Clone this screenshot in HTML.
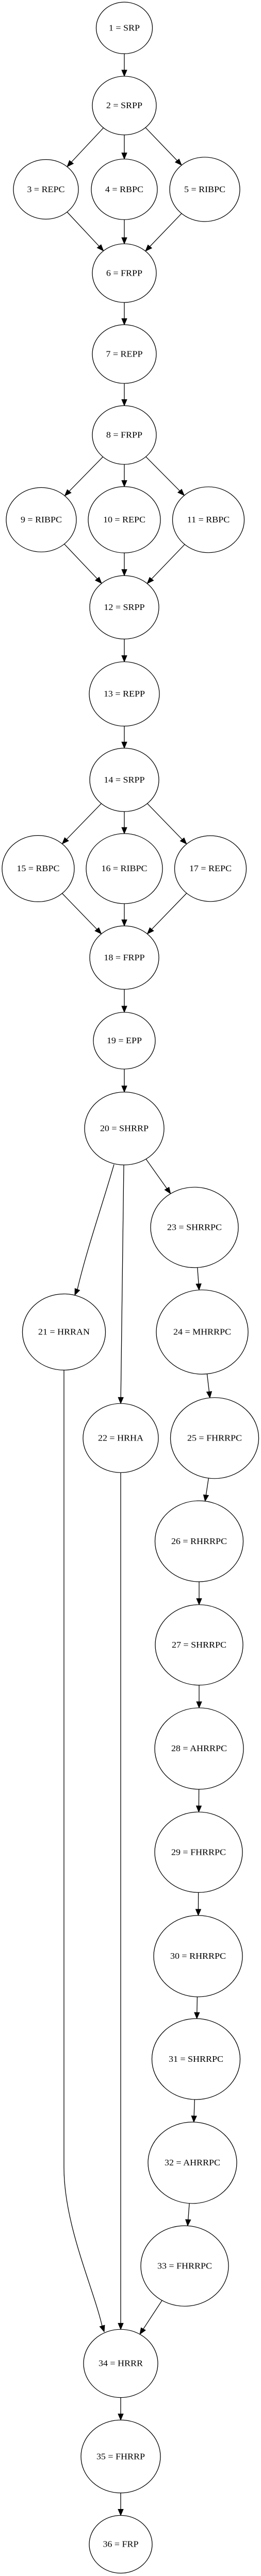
<!DOCTYPE html>
<html><head><meta charset="utf-8"><style>
html,body{margin:0;padding:0;background:#fff;width:100%;height:100%;overflow:hidden;}
svg{display:block;position:absolute;left:0;top:0;width:100vw;height:100vh;}
text{font-family:"Liberation Serif",serif;font-size:18px;text-anchor:middle;dominant-baseline:central;fill:#000;}
ellipse{fill:#fff;stroke:#000;stroke-width:1.3;}
</style></head><body>
<svg id="s" viewBox="0 0 506 5442" preserveAspectRatio="none" xmlns="http://www.w3.org/2000/svg">
<g id="edges" stroke="#000" stroke-width="1.3" fill="none"></g>
<g id="heads" fill="#000" stroke="#000" stroke-width="1"></g>
<g id="nodes">
<ellipse cx="241" cy="59" rx="54.5" ry="54.5"/><text x="241" y="59">1 = SRP</text>
<ellipse cx="241" cy="223" rx="62" ry="62"/><text x="241" y="223">2 = SRPP</text>
<ellipse cx="89" cy="400" rx="63" ry="63"/><text x="89" y="400">3 = REPC</text>
<ellipse cx="241" cy="400" rx="64" ry="64"/><text x="241" y="400">4 = RBPC</text>
<ellipse cx="397" cy="400" rx="68" ry="68"/><text x="397" y="400">5 = RIBPC</text>
<ellipse cx="241" cy="577" rx="62" ry="62"/><text x="241" y="577">6 = FRPP</text>
<ellipse cx="241" cy="748" rx="62" ry="62"/><text x="241" y="748">7 = REPP</text>
<ellipse cx="241" cy="919" rx="62" ry="62"/><text x="241" y="919">8 = FRPP</text>
<ellipse cx="80" cy="1098" rx="68" ry="68"/><text x="80" y="1098">9 = RIBPC</text>
<ellipse cx="241" cy="1098" rx="70" ry="70"/><text x="241" y="1098">10 = REPC</text>
<ellipse cx="404" cy="1098" rx="69.5" ry="69.5"/><text x="404" y="1098">11 = RBPC</text>
<ellipse cx="241" cy="1283" rx="67" ry="67"/><text x="241" y="1283">12 = SRPP</text>
<ellipse cx="241" cy="1466" rx="68" ry="68"/><text x="241" y="1466">13 = REPP</text>
<ellipse cx="241" cy="1647.5" rx="67" ry="67"/><text x="241" y="1647.5">14 = SRPP</text>
<ellipse cx="74" cy="1835" rx="70" ry="70"/><text x="74" y="1835">15 = RBPC</text>
<ellipse cx="241" cy="1835" rx="74" ry="74"/><text x="241" y="1835">16 = RIBPC</text>
<ellipse cx="408" cy="1835" rx="69.5" ry="69.5"/><text x="408" y="1835">17 = REPC</text>
<ellipse cx="241" cy="2023" rx="67" ry="67"/><text x="241" y="2023">18 = FRPP</text>
<ellipse cx="241" cy="2198.5" rx="60" ry="60"/><text x="241" y="2198.5">19 = EPP</text>
<ellipse cx="241" cy="2384" rx="77" ry="77"/><text x="241" y="2384">20 = SHRRP</text>
<ellipse cx="124" cy="2814" rx="80.5" ry="80.5"/><text x="124" y="2814">21 = HRRAN</text>
<ellipse cx="234" cy="3038" rx="73" ry="73"/><text x="234" y="3038">22 = HRHA</text>
<ellipse cx="377" cy="2593" rx="85" ry="85"/><text x="377" y="2593">23 = SHRRPC</text>
<ellipse cx="392" cy="2814" rx="89" ry="89"/><text x="392" y="2814">24 = MHRRPC</text>
<ellipse cx="416" cy="3038" rx="85.5" ry="85.5"/><text x="416" y="3038">25 = FHRRPC</text>
<ellipse cx="386" cy="3256" rx="85.5" ry="85.5"/><text x="386" y="3256">26 = RHRRPC</text>
<ellipse cx="386" cy="3475" rx="85" ry="85"/><text x="386" y="3475">27 = SHRRPC</text>
<ellipse cx="386" cy="3694" rx="86" ry="86"/><text x="386" y="3694">28 = AHRRPC</text>
<ellipse cx="385" cy="3913" rx="85" ry="85"/><text x="385" y="3913">29 = FHRRPC</text>
<ellipse cx="384" cy="4132.5" rx="86" ry="86"/><text x="384" y="4132.5">30 = RHRRPC</text>
<ellipse cx="380" cy="4350" rx="85.5" ry="85.5"/><text x="380" y="4350">31 = SHRRPC</text>
<ellipse cx="373" cy="4569" rx="86" ry="86"/><text x="373" y="4569">32 = AHRRPC</text>
<ellipse cx="358" cy="4787" rx="85" ry="85"/><text x="358" y="4787">33 = FHRRPC</text>
<ellipse cx="234" cy="4993" rx="72" ry="72"/><text x="234" y="4993">34 = HRRR</text>
<ellipse cx="234" cy="5189.5" rx="77" ry="77"/><text x="234" y="5189.5">35 = FHRRP</text>
<ellipse cx="234" cy="5375" rx="61" ry="61"/><text x="234" y="5375">36 = FRP</text>
</g>
</svg>
<script>
(function(){
var N={};
document.querySelectorAll('#nodes ellipse').forEach(function(e,i){N[i+1]=[+e.getAttribute('cx'),+e.getAttribute('cy'),+e.getAttribute('rx')];});
var E=document.getElementById('edges'),H=document.getElementById('heads'),ns='http://www.w3.org/2000/svg';
var AL=13,AW=5;
function head(tx,ty,dx,dy){var bx=tx-dx*AL,by=ty-dy*AL;var p=document.createElementNS(ns,'polygon');
p.setAttribute('points',tx+','+ty+' '+(bx-dy*AW)+','+(by+dx*AW)+' '+(bx+dy*AW)+','+(by-dx*AW));H.appendChild(p);}
function path(d){var p=document.createElementNS(ns,'path');p.setAttribute('d',d);E.appendChild(p);}
function edge(a,b){var A=N[a],B=N[b];var dx=B[0]-A[0],dy=B[1]-A[1],l=Math.hypot(dx,dy);dx/=l;dy/=l;
var sx=A[0]+dx*A[2],sy=A[1]+dy*A[2],tx=B[0]-dx*B[2],ty=B[1]-dy*B[2];
path('M'+sx+','+sy+'L'+(tx-dx*AL)+','+(ty-dy*AL));head(tx,ty,dx,dy);}
[[1,2],[2,3],[2,4],[2,5],[3,6],[4,6],[5,6],[6,7],[7,8],[8,9],[8,10],[8,11],[9,12],[10,12],[11,12],[12,13],[13,14],[14,15],[14,16],[14,17],[15,18],[16,18],[17,18],[18,19],[19,20],[20,23],[23,24],[24,25],[25,26],[26,27],[27,28],[28,29],[29,30],[30,31],[31,32],[32,33],[33,34],[34,35],[35,36]].forEach(function(e){edge(e[0],e[1]);});
path('M221,2460 C200,2540 168,2640 150,2724');head(145,2736,-0.38,0.925);
path('M240,2461 L234.2,2952');head(234,2965,-0.012,1);
path('M234,3111 L234,4908');head(234,4921,0,1);
path('M124,2894.5 L124,4579 C124,4700 180,4830 198,4914');
head(202,4926,0.3,0.954);
})();
</script>
</body></html>
